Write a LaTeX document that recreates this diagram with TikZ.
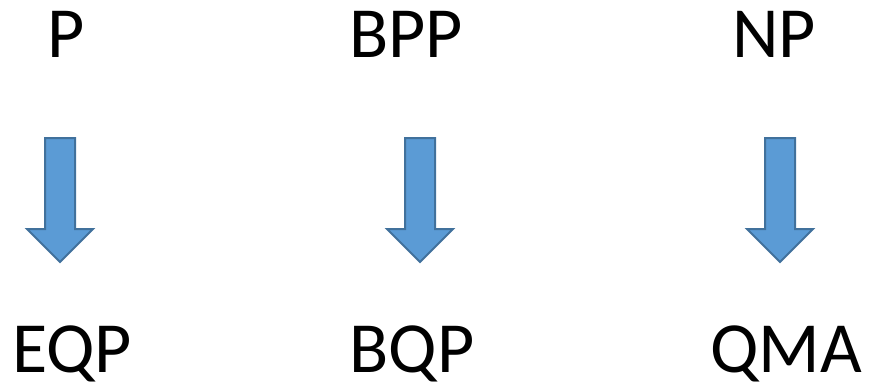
\documentclass[tikz,border=0pt]{standalone}
\usepackage{fontspec}
\setmainfont{Carlito}
\definecolor{arrfill}{HTML}{5B9BD5}
\definecolor{arrline}{HTML}{41719C}
\tikzset{
  lbl/.style={inner sep=0pt, anchor=base, text depth=0pt, font=\fontsize{72}{72}\selectfont},
  blockarrow/.style={fill=arrfill, draw=arrline, line width=2pt, line join=miter},
  pics/downarrow/.style={code={
    \path[blockarrow] (-15,0) -- (15,0) -- (15,91) -- (33,91) -- (0,124) -- (-33,91) -- (-15,91) -- cycle;
  }}
}
\begin{document}
\begin{tikzpicture}[x=1pt,y=-1pt]
\useasboundingbox (0,0) rectangle (872,388);
\node[lbl] (p) at (66,57) {P};
\node[lbl] (bpp) at (406,57) {BPP};
\node[lbl] (np) at (774,57) {NP};
\node[lbl] (eqp) at (72,372) {EQP};
\node[lbl] (bqp) at (412,372) {BQP};
\node[lbl] (qma) at (786,372) {QMA};
\pic at (60,138) {downarrow};
\pic at (420,138) {downarrow};
\pic at (780,138) {downarrow};
\end{tikzpicture}
\end{document}
